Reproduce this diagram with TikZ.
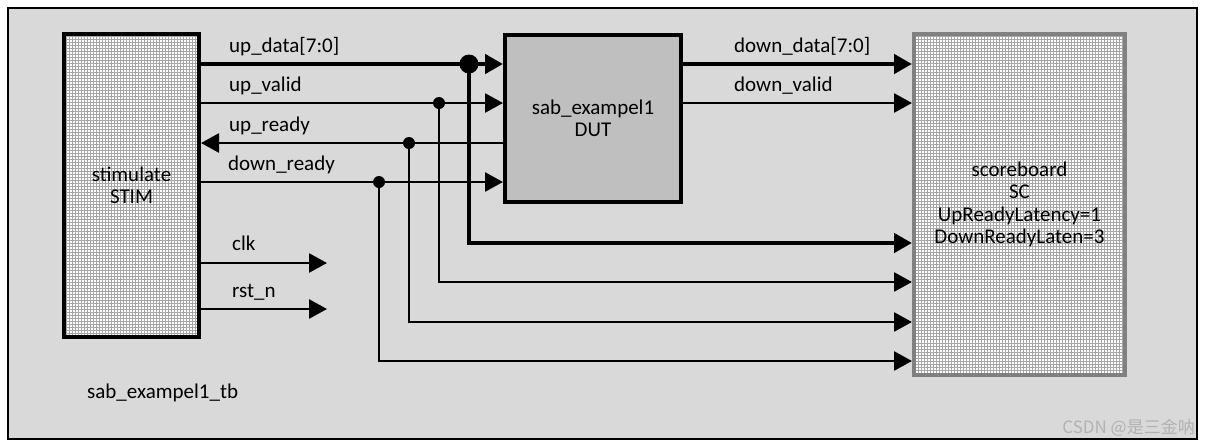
\documentclass[tikz,border=0pt]{standalone}
\usepackage{fontspec}
\setmainfont{Carlito}
\newfontfamily\cjkfont{Noto Sans CJK SC}
\usetikzlibrary{arrows.meta,patterns}

% fine grid fill of the testbench blocks
\pgfdeclarepatternformonly{cellgrid}{\pgfqpoint{-1pt}{-1pt}}{\pgfqpoint{4pt}{4pt}}{\pgfqpoint{3pt}{3pt}}{%
    \pgfsetlinewidth{1pt}
    \pgfpathmoveto{\pgfqpoint{0pt}{0pt}}
    \pgfpathlineto{\pgfqpoint{0pt}{3.1pt}}
    \pgfpathmoveto{\pgfqpoint{0pt}{0pt}}
    \pgfpathlineto{\pgfqpoint{3.1pt}{0pt}}
    \pgfusepath{stroke}}

\definecolor{tbgray}{HTML}{D9D9D9}
\definecolor{dutgray}{HTML}{BFBFBF}

\begin{document}
\begin{tikzpicture}[x=1pt, y=-1pt, font=\fontsize{21}{22.5}\selectfont,
                    block/.style = {draw, line width=4pt, align=center, inner sep=0pt},
                    gridbox/.style = {block, pattern=cellgrid, pattern color=gray!70, preaction={fill=white}},
                    sig/.style = {line width=2.7pt},
                    bus/.style = {line width=4.5pt},
                    tip/.style = {-{Triangle[length=18pt,width=19pt]}},
                    junction/.style = {circle, fill, inner sep=0pt, minimum size=#1},
                    lbl/.style = {anchor=base west, inner sep=0pt}]
                    \useasboundingbox (0,0) rectangle (1211,445);
                    \node[draw, line width=2pt, fill=tbgray, minimum width=1189pt, minimum height=431pt] (tb) at (602.5,223.5) {};
                    \node[lbl] (tbname) at (87,398) {sab\_exampel1\_tb};

                    \node[gridbox, minimum width=135pt, minimum height=303pt] (stim) at (131.5,185.5) {stimulate\\STIM};
                    \node[block, fill=dutgray, minimum width=176pt, minimum height=167pt] (dut) at (593,118.5) {sab\_exampel1\\DUT};
                    \node[gridbox, draw=gray, minimum width=211pt, minimum height=341pt] (sc) at (1019.5,204.5) {scoreboard\\SC\\UpReadyLatency=1\\DownReadyLaten=3};

                    \coordinate (jdata) at (469,64);
                    \coordinate (jvalid) at (439,103);
                    \coordinate (jready) at (409,143);
                    \coordinate (jdready) at (379,182);
                    \coordinate (clkend) at (327,263);
                    \coordinate (rstend) at (327,309);

                    % stim <-> dut
                    \draw[bus,tip] (stim.east |- jdata) -- (dut.west |- jdata);
                    \draw[sig,tip] (stim.east |- jvalid) -- (dut.west |- jvalid);
                    \draw[sig,tip] (dut.west |- jready) -- (stim.east |- jready);
                    \draw[sig,tip] (stim.east |- jdready) -- (dut.west |- jdready);
                    \draw[sig,tip] (stim.east |- clkend) -- (clkend);
                    \draw[sig,tip] (stim.east |- rstend) -- (rstend);

                    % dut -> sc
                    \draw[bus,tip] (dut.east |- jdata) -- (sc.west |- jdata);
                    \draw[sig,tip] (dut.east |- jvalid) -- (sc.west |- jvalid);

                    % taps -> sc
                    \draw[bus,tip] (jdata) |- (sc.west |- 0,243);
                    \draw[sig,tip] (jvalid) |- (sc.west |- 0,282);
                    \draw[sig,tip] (jready) |- (sc.west |- 0,322);
                    \draw[sig,tip] (jdready) |- (sc.west |- 0,361);

                    \node[junction=19pt] (ddata) at (jdata) {};
                    \node[junction=12pt] (dvalid) at (jvalid) {};
                    \node[junction=12pt] (dready) at (jready) {};
                    \node[junction=12pt] (ddready) at (jdready) {};

                    \node[lbl] (lupdata) at (229,52) {up\_data[7:0]};
                    \node[lbl] (lupvalid) at (229,91) {up\_valid};
                    \node[lbl] (lupready) at (229,131) {up\_ready};
                    \node[lbl] (ldnready) at (228,170) {down\_ready};
                    \node[lbl] (ldndata) at (734,52) {down\_data[7:0]};
                    \node[lbl] (ldnvalid) at (734,91) {down\_valid};
                    \node[lbl] (lclk) at (232,250) {clk};
                    \node[lbl] (lrst) at (232,297) {rst\_n};

                    \node[anchor=base east, inner sep=0pt, text=black!30, font=\cjkfont\fontsize{17}{17}\selectfont] (mark) at (1195,433) {CSDN @是三金呐};
                \end{tikzpicture}
\end{document}
